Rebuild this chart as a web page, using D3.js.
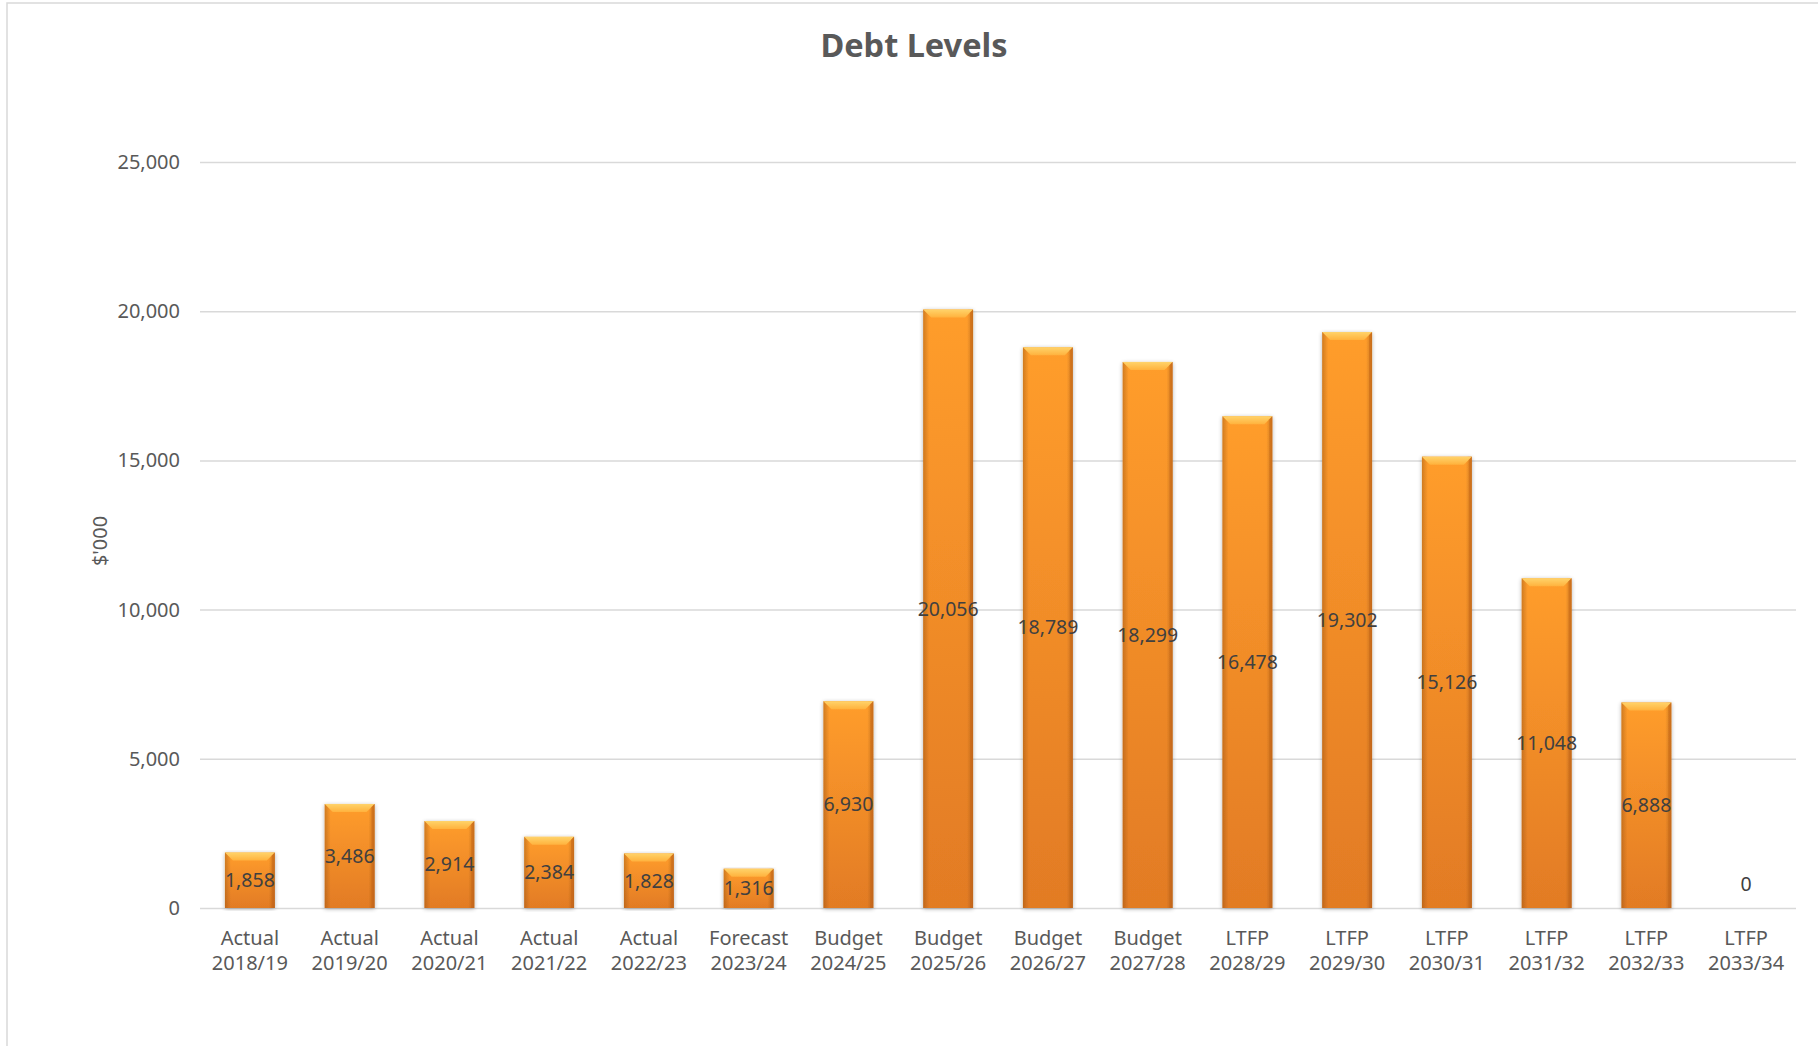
<!DOCTYPE html>
<html>
<head>
<meta charset="utf-8">
<script src="https://cdn.jsdelivr.net/npm/d3@7"></script>
<style>
  body { margin: 0; background: #fff; }
  svg { display: block; font-family: "Noto Sans", "Open Sans", sans-serif; }
</style>
</head>
<body>
<script>
// chart data
const groups = ["Actual", "Actual", "Actual", "Actual", "Actual", "Forecast", "Budget", "Budget",
  "Budget", "Budget", "LTFP", "LTFP", "LTFP", "LTFP", "LTFP", "LTFP"];
const years = ["2018/19", "2019/20", "2020/21", "2021/22", "2022/23", "2023/24", "2024/25", "2025/26",
  "2026/27", "2027/28", "2028/29", "2029/30", "2030/31", "2031/32", "2032/33", "2033/34"];
const debt = [1858, 3486, 2914, 2384, 1828, 1316, 6930, 20056, 18789, 18299, 16478, 19302, 15126, 11048, 6888, 0];
const yTicks = [0, 5000, 10000, 15000, 20000, 25000];

const width = 1818, height = 1046;
const margin = {top: 162, right: 22, bottom: 138, left: 200};
const w = width - margin.left - margin.right;
const h = height - margin.top - margin.bottom;

const svg = d3.select("body").append("svg")
  .attr("width", width)
  .attr("height", height);

// outer chart border (only top/left visible in the crop)
svg.append("rect")
  .attr("x", 7).attr("y", 3)
  .attr("width", width + 20).attr("height", height + 20)
  .attr("fill", "none").attr("stroke", "#d9d9d9").attr("stroke-width", 1.5);

const defs = svg.append("defs");
const vGrad = defs.append("linearGradient").attr("id", "barV")
  .attr("x1", 0).attr("y1", 0).attr("x2", 0).attr("y2", 1);
vGrad.append("stop").attr("offset", "0%").attr("stop-color", "#ff9d2c");
vGrad.append("stop").attr("offset", "100%").attr("stop-color", "#e27b24");

const hGrad = defs.append("linearGradient").attr("id", "barH")
  .attr("x1", 0).attr("y1", 0).attr("x2", 1).attr("y2", 0);
hGrad.append("stop").attr("offset", "0%").attr("stop-color", "#8a4a10").attr("stop-opacity", 0.4);
hGrad.append("stop").attr("offset", "12%").attr("stop-color", "#8a4a10").attr("stop-opacity", 0);
hGrad.append("stop").attr("offset", "88%").attr("stop-color", "#8a4a10").attr("stop-opacity", 0);
hGrad.append("stop").attr("offset", "100%").attr("stop-color", "#8a4a10").attr("stop-opacity", 0.45);

const bevGrad = defs.append("linearGradient").attr("id", "bev")
  .attr("x1", 0).attr("y1", 0).attr("x2", 0).attr("y2", 1);
bevGrad.append("stop").attr("offset", "0%").attr("stop-color", "#ffd36a");
bevGrad.append("stop").attr("offset", "100%").attr("stop-color", "#ffb23d");

const shadow = defs.append("filter").attr("id", "shadow")
  .attr("x", "-20%").attr("y", "-5%").attr("width", "140%").attr("height", "110%");
shadow.append("feGaussianBlur").attr("in", "SourceAlpha").attr("stdDeviation", 2);
shadow.append("feOffset").attr("dx", 0).attr("dy", 1).attr("result", "off");
shadow.append("feComponentTransfer").append("feFuncA").attr("type", "linear").attr("slope", 0.3);
const merge = shadow.append("feMerge");
merge.append("feMergeNode");
merge.append("feMergeNode").attr("in", "SourceGraphic");

const g = svg.append("g").attr("transform", `translate(${margin.left},${margin.top})`);

const x = d3.scaleBand().domain(years).range([0, w]).paddingInner(0.5).paddingOuter(0.25);
const y = d3.scaleLinear().domain([0, 25000]).range([h, 0]);

// gridlines + y labels
g.append("g")
  .call(d3.axisLeft(y).tickValues(yTicks).tickSize(-w).tickPadding(20).tickFormat(d3.format(",")))
  .call(a => a.select(".domain").remove())
  .call(a => a.selectAll("line").attr("stroke", "#d9d9d9").attr("stroke-width", 1.5))
  .call(a => a.selectAll("text").attr("fill", "#595959").style("font-size", "20px")
    .style("font-family", "'Noto Sans', sans-serif"));

// bars
const bars = g.append("g").selectAll("g.bar")
  .data(debt.map((v, i) => ({v, year: years[i]})).filter(d => d.v > 0))
  .join("g").attr("class", "bar").attr("filter", "url(#shadow)");

bars.append("rect")
  .attr("x", d => x(d.year)).attr("y", d => y(d.v))
  .attr("width", x.bandwidth()).attr("height", d => y(0) - y(d.v))
  .attr("fill", "url(#barV)");
bars.append("rect")
  .attr("x", d => x(d.year)).attr("y", d => y(d.v))
  .attr("width", x.bandwidth()).attr("height", d => y(0) - y(d.v))
  .attr("fill", "url(#barH)");
// top bevel
const bev = 8;
bars.append("path")
  .attr("fill", "url(#bev)")
  .attr("d", d => {
    const x0 = x(d.year), x1 = x0 + x.bandwidth(), t = y(d.v);
    return `M${x0},${t}L${x1},${t}L${x1 - bev},${t + bev}L${x0 + bev},${t + bev}Z`;
  });
bars.append("path")
  .attr("fill", "#c8651a").attr("opacity", 0.5)
  .attr("d", d => {
    const x0 = x(d.year), x1 = x0 + x.bandwidth(), t = y(d.v), b = y(0);
    return `M${x1},${t}L${x1},${b}L${x1 - 3},${b}L${x1 - 3},${t + 3}Z`;
  });

// data labels
g.append("g").selectAll("text")
  .data(debt.map((v, i) => ({v, year: years[i]})))
  .join("text")
  .attr("x", d => x(d.year) + x.bandwidth() / 2)
  .attr("y", d => d.v > 0 ? y(d.v / 2) : y(0) - 24)
  .attr("dy", "0.35em")
  .attr("text-anchor", "middle")
  .attr("fill", "#404040")
  .style("font-size", "19.5px")
  .text(d => d3.format(",")(d.v));

// x labels
const xl = g.append("g").attr("transform", `translate(0,${h})`);
xl.selectAll("text")
  .data(years)
  .join("text")
  .attr("x", d => x(d) + x.bandwidth() / 2)
  .attr("y", 30)
  .attr("text-anchor", "middle")
  .attr("fill", "#595959")
  .style("font-size", "20px")
  .each(function(d, i) {
    const t = d3.select(this);
    t.append("tspan").attr("x", x(d) + x.bandwidth() / 2).attr("dy", "0.35em").text(groups[i]);
    t.append("tspan").attr("x", x(d) + x.bandwidth() / 2).attr("dy", 25).text(d);
  });

// y axis title
svg.append("text")
  .attr("transform", `translate(100,${margin.top + y(12300)}) rotate(-90)`)
  .attr("text-anchor", "middle").attr("dy", "0.35em")
  .attr("fill", "#595959").style("font-size", "20px")
  .text("$'000");

// title
svg.append("text")
  .attr("x", 914).attr("y", 46)
  .attr("dy", "0.35em")
  .attr("text-anchor", "middle")
  .attr("fill", "#595959")
  .style("font-size", "32.5px").style("font-weight", "bold")
  .text("Debt Levels");
</script>
</body>
</html>
